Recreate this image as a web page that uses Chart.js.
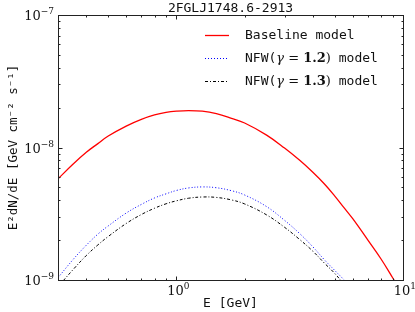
<!DOCTYPE html>
<html>
<head>
<meta charset="utf-8">
<script src="https://cdn.jsdelivr.net/npm/chart.js@4.4.1/dist/chart.umd.min.js"></script>
<style>
  html, body { margin: 0; padding: 0; background: #fff; }
  #wrap { width: 415px; height: 312px; }
</style>
</head>
<body>
<div id="wrap"><canvas id="sed" width="415" height="312"></canvas></div>
<script>
// E [GeV]
const energies = [0.3, 0.35, 0.4, 0.45, 0.5, 0.6, 0.7, 0.8, 0.9, 1.0, 1.13, 1.3, 1.5, 1.75, 2, 2.5, 3, 3.5, 4, 4.5, 5, 5.5, 6, 7, 8, 9, 10];
// E^2 dN/dE [GeV cm^-2 s^-1]
const baseline = [5.8e-9, 7.5e-9, 9.2e-9, 1.07e-8, 1.22e-8, 1.45e-8, 1.63e-8, 1.76e-8, 1.84e-8, 1.88e-8, 1.90e-8, 1.88e-8, 1.80e-8, 1.66e-8, 1.53e-8, 1.24e-8, 9.9e-9, 8.0e-9, 6.5e-9, 5.3e-9, 4.3e-9, 3.5e-9, 2.9e-9, 2.0e-9, 1.44e-9, 1.04e-9, 7.7e-10];
const nfw12 = [1.04e-9, 1.43e-9, 1.83e-9, 2.22e-9, 2.56e-9, 3.2e-9, 3.72e-9, 4.16e-9, 4.47e-9, 4.74e-9, 4.95e-9, 5.04e-9, 4.97e-9, 4.72e-9, 4.38e-9, 3.58e-9, 2.82e-9, 2.24e-9, 1.78e-9, 1.42e-9, 1.18e-9, 1.0e-9, 8.5e-10, 5.6e-10, 3.5e-10, 2.2e-10, 1.3e-10];
const nfw13 = [8.9e-10, 1.2e-9, 1.53e-9, 1.84e-9, 2.13e-9, 2.67e-9, 3.12e-9, 3.48e-9, 3.76e-9, 3.96e-9, 4.14e-9, 4.23e-9, 4.2e-9, 4.02e-9, 3.75e-9, 3.1e-9, 2.5e-9, 2.02e-9, 1.65e-9, 1.34e-9, 1.12e-9, 9.2e-10, 7.6e-10, 5.0e-10, 3.1e-10, 1.9e-10, 1.1e-10];

const seriesNames = ['Baseline model', 'NFW(γ = 1.2) model', 'NFW(γ = 1.3) model'];
const xTicks = [1, 10];
const xTickExp = ['0', '1'];
const yTicks = [1e-9, 1e-8, 1e-7];
const yTickExp = ['−9', '−8', '−7'];

const mono = '"DejaVu Sans Mono", monospace';
const serif = '"DejaVu Serif", serif';

function pts(ys) {
    return energies.map((e, i) => ({ x: e, y: ys[i] }));
}

// axes frame, inward ticks, tick labels, titles and legend
const decor = {
    id: 'decor',
    afterDraw(chart) {
        const { ctx, chartArea: a, scales: { x, y } } = chart;
        const L = Math.round(a.left) + 0.5, R = Math.round(a.right) + 0.5;
        const T = Math.round(a.top) + 0.5, B = Math.round(a.bottom) + 0.5;
        ctx.save();
        ctx.strokeStyle = '#222';
        ctx.lineWidth = 1;
        ctx.setLineDash([]);
        ctx.strokeRect(L, T, R - L, B - T);

        // minor + major ticks
        const xt = [], yt = [];
        for (let e = -1; e <= 1; e++) {
            for (let k = 1; k <= 9; k++) {
                const v = k * Math.pow(10, e);
                if (v >= 0.3 && v <= 10) xt.push([v, k === 1 ? 4 : 2]);
            }
        }
        for (let e = -9; e <= -7; e++) {
            for (let k = 1; k <= 9; k++) {
                const v = k * Math.pow(10, e);
                if (v >= 1e-9 * 0.999 && v <= 1e-7 * 1.001) yt.push([v, k === 1 ? 4 : 2]);
            }
        }
        ctx.beginPath();
        xt.forEach(([v, len]) => {
            const px = Math.round(x.getPixelForValue(v)) + 0.5;
            ctx.moveTo(px, B); ctx.lineTo(px, B - len);
            ctx.moveTo(px, T); ctx.lineTo(px, T + len);
        });
        yt.forEach(([v, len]) => {
            const py = Math.round(y.getPixelForValue(v)) + 0.5;
            ctx.moveTo(L, py); ctx.lineTo(L + len, py);
            ctx.moveTo(R, py); ctx.lineTo(R - len, py);
        });
        ctx.stroke();

        ctx.fillStyle = '#111';
        ctx.textBaseline = 'alphabetic';

        // x tick labels
        xTicks.forEach((v, i) => {
            const px = x.getPixelForValue(v);
            ctx.font = '13px ' + serif;
            const w = ctx.measureText('10').width;
            ctx.textAlign = 'left';
            ctx.fillText('10', px - w / 2 - 1, 295);
            ctx.font = '9px ' + serif;
            ctx.fillText(xTickExp[i], px + w / 2 - 1, 289);
        });

        // y tick labels
        yTicks.forEach((v, i) => {
            const py = y.getPixelForValue(v);
            ctx.font = '9px ' + serif;
            const ew = ctx.measureText(yTickExp[i]).width;
            ctx.textAlign = 'right';
            ctx.fillText(yTickExp[i], 54, py - 1);
            ctx.font = '13px ' + serif;
            ctx.fillText('10', 54 - ew, py + 5);
        });

        // title
        ctx.font = '13px ' + mono;
        ctx.textAlign = 'center';
        ctx.fillText('2FGLJ1748.6-2913', (a.left + a.right) / 2, 12);

        // x axis title
        ctx.fillText('E [GeV]', (a.left + a.right) / 2, 307);

        // y axis title
        ctx.save();
        ctx.translate(17, (a.top + a.bottom) / 2);
        ctx.rotate(-Math.PI / 2);
        ctx.font = '12.5px ' + mono;
        ctx.fillText('E²dN/dE [GeV cm⁻² s⁻¹]', 0, 0);
        ctx.restore();

        // legend
        const rows = [35, 58, 81];
        chart.data.datasets.forEach((ds, i) => {
            const ly = rows[i] + 0.5;
            ctx.strokeStyle = ds.borderColor;
            ctx.lineWidth = ds.borderWidth;
            ctx.setLineDash(ds.borderDash || []);
            ctx.beginPath();
            ctx.moveTo(205, ly); ctx.lineTo(229, ly);
            ctx.stroke();
            ctx.setLineDash([]);
            ctx.textAlign = 'left';
            const base = rows[i] + 4;
            let tx = 245;
            if (i === 0) {
                ctx.font = '13px ' + mono;
                ctx.fillText(seriesNames[0], tx, base);
            } else {
                const gam = seriesNames[i].match(/= ([\d.]+)/)[1];
                const parts = [
                    ['NFW(', '13px ' + mono],
                    ['γ', 'italic 13px ' + serif],
                    [' = ', '13px ' + serif],
                    [gam, 'bold 13px ' + serif],
                    [')', '13px ' + serif],
                    [' model', '13px ' + mono]
                ];
                parts.forEach(([s, f]) => {
                    ctx.font = f;
                    ctx.fillText(s, tx, base);
                    tx += ctx.measureText(s).width;
                });
            }
        });
        ctx.restore();
    }
};

new Chart(document.getElementById('sed'), {
    type: 'line',
    data: {
        datasets: [
            {
                label: seriesNames[0],
                data: pts(baseline),
                borderColor: '#ff0000',
                borderWidth: 1.3,
                pointRadius: 0,
                tension: 0.4
            },
            {
                label: seriesNames[1],
                data: pts(nfw12),
                borderColor: '#0000ff',
                borderWidth: 1,
                borderDash: [1, 2],
                pointRadius: 0,
                tension: 0.4
            },
            {
                label: seriesNames[2],
                data: pts(nfw13),
                borderColor: '#000000',
                borderWidth: 1,
                borderDash: [3, 2, 1, 2],
                pointRadius: 0,
                tension: 0.4
            }
        ]
    },
    options: {
        responsive: false,
        animation: false,
        layout: { padding: { left: 58, right: 12, top: 15, bottom: 32 } },
        scales: {
            x: { type: 'logarithmic', min: 0.3, max: 10, display: false },
            y: { type: 'logarithmic', min: 1e-9, max: 1e-7, display: false }
        },
        plugins: {
            legend: { display: false },
            tooltip: { enabled: false }
        }
    },
    plugins: [decor]
});
</script>
</body>
</html>
